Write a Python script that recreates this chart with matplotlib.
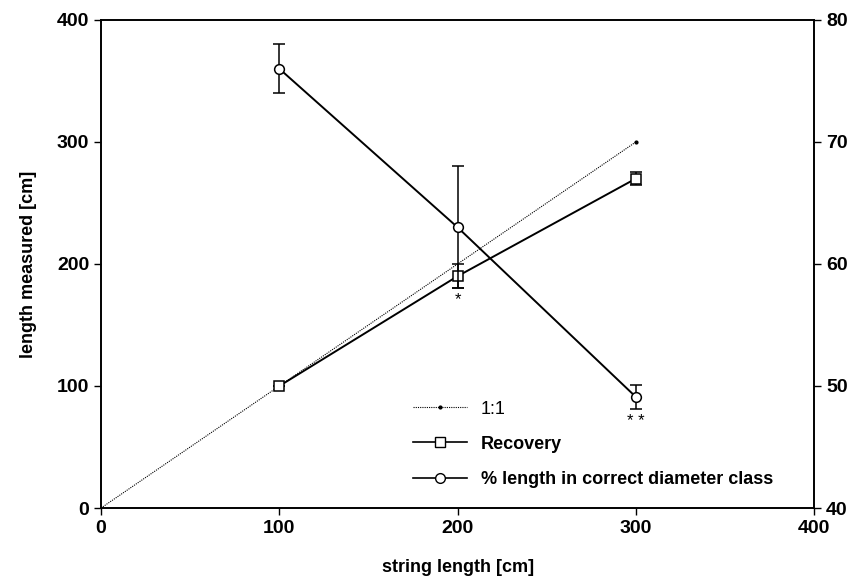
import matplotlib

matplotlib.use("Agg")
import matplotlib.pyplot as plt
from matplotlib.lines import Line2D

# data
string_len = [100, 200, 300]
recovery = [100, 190, 270]
recovery_err = [0, 10, 5]
pct_correct = [76, 63, 49.1]
pct_err = [2, 5, 1]
one_to_one_x = [0, 300]
one_to_one_y = [0, 300]
signif = ["", "*", "* *"]

plt.rcParams["font.family"] = ["Liberation Sans", "DejaVu Sans"]

fig = plt.figure(figsize=(8.49, 5.79), dpi=100)
ax = fig.add_axes([0.119, 0.1226, 0.84, 0.843])
ax2 = ax.twinx()

ax.plot(one_to_one_x, one_to_one_y, color="black", lw=0.8, ls=(0, (1, 1)))
ax.plot(one_to_one_x[-1:], one_to_one_y[-1:], "o", color="black", ms=2)
ax.errorbar(string_len, recovery, yerr=recovery_err, color="black", lw=1.4,
            marker="s", ms=7, mfc="white", mec="black", mew=1.1,
            capsize=4, elinewidth=1.1, capthick=1.1, zorder=3)
ax2.errorbar(string_len, pct_correct, yerr=pct_err, color="black", lw=1.4,
             marker="o", ms=7, mfc="white", mec="black", mew=1.1,
             capsize=4, elinewidth=1.1, capthick=1.1, zorder=3)

# significance marks under the points
ax.text(200, 171, signif[1], ha="center", va="center", fontsize=12)
ax2.text(300, 47.05, signif[2], ha="center", va="center", fontsize=12)

ax.set_xlim(0, 400)
ax.set_ylim(0, 400)
ax2.set_ylim(40, 80)
ax.set_xticks([0, 100, 200, 300, 400])
ax.set_yticks([0, 100, 200, 300, 400])
ax2.set_yticks([40, 50, 60, 70, 80])
for a in (ax, ax2):
    a.tick_params(direction="out", length=5, width=1, labelsize=14)
    for lab in a.get_xticklabels() + a.get_yticklabels():
        lab.set_fontweight("bold")
    for sp in a.spines.values():
        sp.set_linewidth(1.2)

ax.set_xlabel("string length [cm]", fontsize=13, fontweight="bold", labelpad=16)
ax.set_ylabel("length measured [cm]", fontsize=13, fontweight="bold", labelpad=14)

handles = [
    Line2D([], [], color="black", lw=0.8, ls=(0, (1, 1)), marker="o", ms=2,
           markevery=[1], label="1:1"),
    Line2D([], [], color="black", lw=1.2, marker="s", ms=7, mfc="white", label="Recovery"),
    Line2D([], [], color="black", lw=1.2, marker="o", ms=7, mfc="white",
           label="% length in correct diameter class"),
]
leg = ax.legend(handles=handles, loc="lower left", bbox_to_anchor=(0.415, 0.008),
                frameon=False, fontsize=13, handlelength=3.0, labelspacing=1.0,
                handletextpad=0.75)
for t in leg.get_texts()[1:]:
    t.set_fontweight("bold")

fig.savefig("out.png", dpi=100)
